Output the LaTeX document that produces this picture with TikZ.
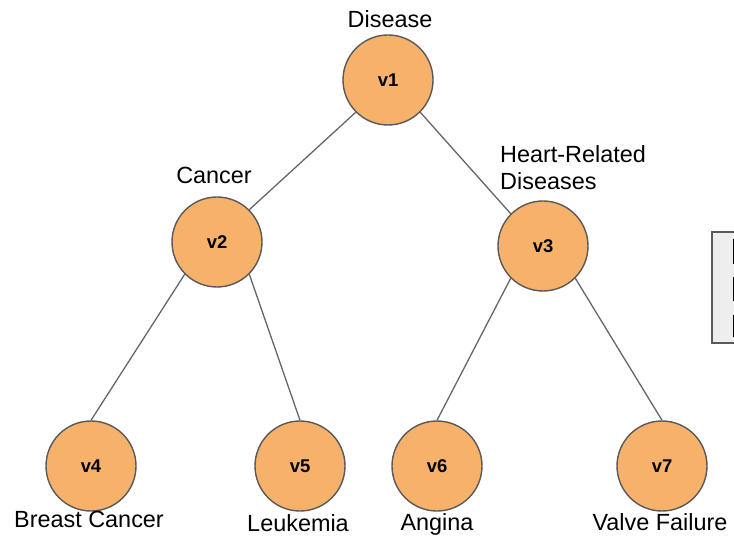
\documentclass[tikz,border=0pt]{standalone}
\usepackage{fontspec}
\setmainfont{Liberation Sans}
\definecolor{nodefill}{HTML}{F6B26B}
\definecolor{nodeline}{HTML}{595959}
\definecolor{edgeline}{HTML}{666666}
\definecolor{panelfill}{HTML}{EEEEEE}
\begin{document}
\begin{tikzpicture}[x=1bp,y=-1bp,
  vertex/.style={circle, draw=nodeline, line width=1.4bp, fill=nodefill,
    minimum size=90bp, inner sep=0pt,
    font=\bfseries\fontsize{18.5}{22}\selectfont},
  caption/.style={anchor=base, inner sep=0pt,
    font=\fontsize{23.5}{28}\selectfont},
  edge/.style={draw=edgeline, line width=1.3bp}]
\useasboundingbox (0,0) rectangle (734,536);

% tree vertices
\node[vertex] (v1) at (388,80)  {v1};
\node[vertex] (v2) at (217,242) {v2};
\node[vertex] (v3) at (543,246) {v3};
\node[vertex] (v4) at (91,466)  {v4};
\node[vertex] (v5) at (300,466) {v5};
\node[vertex] (v6) at (437,466) {v6};
\node[vertex] (v7) at (662,466) {v7};

% category names
\node[caption] (t1) at (390,28)  {Disease};
\node[caption] (t2) at (214,184) {Cancer};
\node[caption, anchor=base west] (t3a) at (500,163) {Heart-Related};
\node[caption, anchor=base west] (t3b) at (500,190) {Diseases};
\node[caption] (t4) at (89,527)  {Breast Cancer};
\node[caption] (t5) at (298,531) {Leukemia};
\node[caption] (t6) at (437,530) {Angina};
\node[caption] (t7) at (660,530) {Valve Failure};

% tree edges
\draw[edge] (v1.south west) -- (v2.north east);
\draw[edge] (v1.south east) -- (v3.north west);
\draw[edge] (v2.south west) -- (v4.north);
\draw[edge] (v2.south east) -- (v5.north);
\draw[edge] (v3.south west) -- (v6.north);
\draw[edge] (v3.south east) -- (v7.north);

% side panel running off the right edge
\begin{scope}
\clip (0,0) rectangle (734,536);
\draw[draw=nodeline, line width=2bp, fill=panelfill] (712,232) rectangle (780,343);
\fill[black] (732.6,239) rectangle (740,264);
\fill[black] (732.6,277) rectangle (740,301);
\fill[black] (732.6,315) rectangle (740,337);
\end{scope}
\end{tikzpicture}
\end{document}
